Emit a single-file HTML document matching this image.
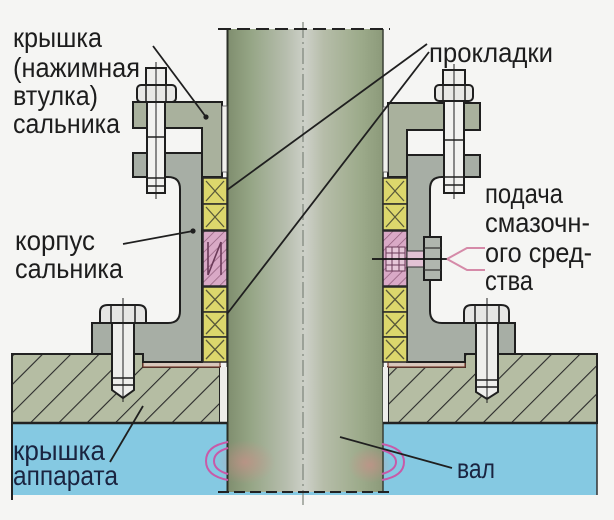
<!DOCTYPE html>
<html><head><meta charset="utf-8"><style>
html,body{margin:0;padding:0;background:#f5f5f3;overflow:hidden}
svg{display:block}
text{font-family:"Liberation Sans","DejaVu Sans",sans-serif;font-size:28px;fill:#1d1d1d}
</style></head><body>
<svg width="614" height="520" viewBox="0 0 614 520" xmlns="http://www.w3.org/2000/svg">
<defs>
 <linearGradient id="sh" x1="0" x2="1" y1="0" y2="0">
  <stop offset="0" stop-color="#7f8d6e"/>
  <stop offset="0.15" stop-color="#95a585"/>
  <stop offset="0.38" stop-color="#b7beae"/>
  <stop offset="0.5" stop-color="#cdd0c8"/>
  <stop offset="0.62" stop-color="#b6bda9"/>
  <stop offset="0.85" stop-color="#9dab8b"/>
  <stop offset="1" stop-color="#8c9a7a"/>
 </linearGradient>
 <radialGradient id="pk" cx="0.5" cy="0.5" r="0.5">
  <stop offset="0" stop-color="#d88a8a" stop-opacity="0.55"/>
  <stop offset="1" stop-color="#d88a8a" stop-opacity="0"/>
 </radialGradient>
 <pattern id="hatch" width="20" height="20" patternUnits="userSpaceOnUse" patternTransform="rotate(45)">
  <rect width="20" height="20" fill="#b5bda3"/>
  <line x1="0" y1="0" x2="0" y2="20" stroke="#2a2a2a" stroke-width="2.2"/>
 </pattern>
 <pattern id="ph" width="7" height="7" patternUnits="userSpaceOnUse" patternTransform="rotate(45)">
  <rect width="7" height="7" fill="#d9a9c6"/>
  <line x1="0" y1="0" x2="0" y2="7" stroke="#8e5a78" stroke-width="1.4"/>
 </pattern>
</defs>

<rect width="614" height="520" fill="#f5f5f3"/>

<!-- blue area -->
<rect x="12" y="423" width="585" height="72" fill="#85c9e2"/>
<line x1="12" y1="423" x2="12" y2="500" stroke="#222" stroke-width="2"/>
<line x1="597" y1="423" x2="597" y2="495" stroke="#333" stroke-width="1.5"/>

<!-- shaft -->
<rect x="227" y="29" width="156" height="463" fill="url(#sh)"/>
<ellipse cx="245" cy="462" rx="30" ry="22" fill="url(#pk)"/>
<ellipse cx="370" cy="465" rx="22" ry="18" fill="url(#pk)"/>
<line x1="227.5" y1="29" x2="227.5" y2="492" stroke="#2a2f26" stroke-width="2"/>
<line x1="383" y1="29" x2="383" y2="492" stroke="#3a4034" stroke-width="1.5"/>
<line x1="303" y1="22" x2="303" y2="505" stroke="#7d847a" stroke-width="1.2" stroke-dasharray="16 4 2 4"/>
<line x1="218" y1="29" x2="390" y2="29" stroke="#222" stroke-width="2" stroke-dasharray="13 6"/>
<line x1="218" y1="492" x2="392" y2="492" stroke="#222" stroke-width="2" stroke-dasharray="11 5"/>

<!-- apparatus covers (hatched) -->
<path d="M12 354 H143 V367 H220 V423 H12 Z" fill="url(#hatch)" stroke="#222" stroke-width="2"/>
<path d="M388 367 H465 V354 H597 V423 H388 Z" fill="url(#hatch)" stroke="#222" stroke-width="2"/>
<rect x="220" y="367" width="7" height="56" fill="#eeeeea"/>
<rect x="383" y="367" width="5" height="56" fill="#eeeeea"/>
<line x1="12" y1="423" x2="227" y2="423" stroke="#222" stroke-width="2.5"/>
<line x1="383" y1="423" x2="597" y2="423" stroke="#222" stroke-width="2.5"/>
<!-- gaskets -->
<rect x="143" y="362" width="77" height="5" fill="#d8c7bb" stroke="#7a3f30" stroke-width="1.2"/>
<rect x="388" y="362" width="77" height="5" fill="#d8c7bb" stroke="#7a3f30" stroke-width="1.2"/>

<!-- stuffing box body -->
<path d="M133 153 H202 V362 H143 V354 H92 V323 H168 Q180 323 180 311 V189 Q180 177 168 177 H133 Z" fill="#a7aea5" stroke="#1f1f1f" stroke-width="2"/>
<path d="M407 155 H480 V177 H442 Q430 177 430 189 V311 Q430 323 442 323 H515 V354 H465 V362 H407 Z" fill="#a7aea5" stroke="#1f1f1f" stroke-width="2"/>

<!-- gland -->
<path d="M133 102 H222 V177 H202 V128 H133 Z" fill="#a9b19d" stroke="#1f1f1f" stroke-width="2"/>
<path d="M388 103 H480 V130 H407 V177 H388 Z" fill="#a9b19d" stroke="#1f1f1f" stroke-width="2"/>
<rect x="222" y="106" width="5" height="66" fill="#f0f0ec" stroke="#555" stroke-width="0.8"/>
<rect x="383" y="107" width="5" height="65" fill="#f0f0ec" stroke="#555" stroke-width="0.8"/>

<!-- packing left -->
<g stroke="#2a2a2a" stroke-width="1.5">
 <rect x="203" y="178" width="24" height="26" fill="#dcd76c"/>
 <rect x="203" y="204" width="24" height="26" fill="#dcd76c"/>
 <rect x="203" y="287" width="24" height="25" fill="#dcd76c"/>
 <rect x="203" y="312" width="24" height="25" fill="#dcd76c"/>
 <rect x="203" y="337" width="24" height="25" fill="#dcd76c"/>
 <rect x="383" y="178" width="24" height="26" fill="#dcd76c"/>
 <rect x="383" y="204" width="24" height="26" fill="#dcd76c"/>
 <rect x="383" y="287" width="24" height="25" fill="#dcd76c"/>
 <rect x="383" y="312" width="24" height="25" fill="#dcd76c"/>
 <rect x="383" y="337" width="24" height="25" fill="#dcd76c"/>
</g>
<g stroke="#5a5a3a" stroke-width="1.3">
 <path d="M206 181 L224 201 M224 181 L206 201 M206 207 L224 227 M224 207 L206 227 M206 290 L224 309 M224 290 L206 309 M206 315 L224 334 M224 315 L206 334 M206 340 L224 359 M224 340 L206 359"/>
 <path d="M386 181 L404 201 M404 181 L386 201 M386 207 L404 227 M404 207 L386 227 M386 290 L404 309 M404 290 L386 309 M386 315 L404 334 M404 315 L386 334 M386 340 L404 359 M404 340 L386 359"/>
</g>
<!-- lantern rings -->
<rect x="203" y="231" width="24" height="55" fill="url(#ph)" stroke="#2a2a2a" stroke-width="1.5"/>
<path d="M208 242 V275 M221 242 V275 M208 275 L221 242" stroke="#6a3a58" stroke-width="1.6" fill="none"/>
<rect x="383" y="231" width="24" height="55" fill="url(#ph)" stroke="#2a2a2a" stroke-width="1.5"/>
<rect x="386" y="247" width="19" height="24" fill="#e6c6d8" stroke="#6a3a58" stroke-width="1"/>
<path d="M386 253 H405 M386 265 H405 M392 247 V271 M399 247 V271" stroke="#6a3a58" stroke-width="1"/>
<rect x="407" y="251" width="20" height="16" fill="#e2c2d4" stroke="#333" stroke-width="1"/>

<!-- lubricator fitting -->
<rect x="424" y="237" width="17" height="43" fill="#b0b6ae" stroke="#1f1f1f" stroke-width="2"/>
<path d="M424 248 H441 M424 270 H441" stroke="#333" stroke-width="1.2"/>
<line x1="372" y1="259" x2="448" y2="259" stroke="#111" stroke-width="1.8"/>
<path d="M447 259 L467 248 H485 M447 259 L467 270 H485" stroke="#d58aa8" stroke-width="2" fill="none"/>

<!-- upper left bolt -->
<g stroke="#1f1f1f" stroke-width="2">
 <rect x="147" y="102" width="18" height="91" fill="#f2f2f0"/>
 <rect x="146" y="68" width="20" height="17" fill="#eeeeec"/>
 <rect x="137" y="85" width="39" height="17" rx="4" fill="#e8e8e6"/>
 <path d="M146 85 V102 M166 85 V102 M147 137 H165 M147 178 H165 M147 186 H165" fill="none" stroke-width="1.5"/>
 <line x1="156" y1="62" x2="156" y2="199" stroke-width="1"/>
</g>
<!-- upper right bolt -->
<g stroke="#1f1f1f" stroke-width="2">
 <rect x="444" y="101" width="20" height="92" fill="#f2f2f0"/>
 <rect x="443" y="70" width="22" height="15" fill="#eeeeec"/>
 <rect x="435" y="85" width="38" height="16" rx="4" fill="#e8e8e6"/>
 <path d="M443 85 V101 M465 85 V101 M444 140 H464 M444 177 H464 M444 185 H464" fill="none" stroke-width="1.5"/>
 <line x1="454" y1="64" x2="454" y2="199" stroke-width="1"/>
</g>
<!-- lower left bolt -->
<g stroke="#1f1f1f" stroke-width="2">
 <path d="M112 323 V390 L123 398 L134 390 V323 Z" fill="#eeeeec"/>
 <path d="M100 323 V312 Q100 305 108 305 H138 Q146 305 146 312 V323 Z" fill="#e6e6e4"/>
 <path d="M111 306 V323 M135 306 V323 M112 378 H134 M112 385 H134" fill="none" stroke-width="1.5"/>
 <line x1="123" y1="298" x2="123" y2="402" stroke-width="1"/>
</g>
<!-- lower right bolt -->
<g stroke="#1f1f1f" stroke-width="2">
 <path d="M476 323 V392 L487 399 L498 392 V323 Z" fill="#eeeeec"/>
 <path d="M464 323 V312 Q464 305 472 305 H501 Q509 305 509 312 V323 Z" fill="#e6e6e4"/>
 <path d="M475 306 V323 M499 306 V323 M476 380 H498 M476 387 H498" fill="none" stroke-width="1.5"/>
 <line x1="487" y1="298" x2="487" y2="403" stroke-width="1"/>
</g>

<!-- rotation marks -->
<g fill="none" stroke="#c85aa8" stroke-width="2">
 <path d="M228 442 Q206 446 206 461 Q206 476 228 480"/>
 <path d="M228 448 Q214 452 214 461 Q214 470 228 474"/>
 <path d="M382 444 Q404 448 404 462 Q404 476 382 480"/>
 <path d="M382 450 Q396 454 396 462 Q396 470 382 474"/>
</g>

<!-- leaders -->
<g stroke="#1f1f1f" stroke-width="1.8" fill="none">
 <line x1="153" y1="46" x2="206" y2="117"/>
 <line x1="427" y1="44" x2="227" y2="190"/>
 <line x1="429" y1="52" x2="227" y2="314"/>
 <line x1="123" y1="244" x2="193" y2="231"/>
 <line x1="110" y1="462" x2="143" y2="406"/>
 <line x1="452" y1="468" x2="340" y2="437"/>
</g>
<g fill="#1f1f1f">
 <circle cx="206" cy="117" r="2.6"/>
 <circle cx="193" cy="231" r="2.6"/>
</g>

<!-- labels -->
<text x="13" y="47" textLength="89" lengthAdjust="spacingAndGlyphs">крышка</text>
<text x="13" y="77" textLength="127" lengthAdjust="spacingAndGlyphs">(нажимная</text>
<text x="13" y="105" textLength="85" lengthAdjust="spacingAndGlyphs">втулка)</text>
<text x="13" y="133" textLength="107" lengthAdjust="spacingAndGlyphs">сальника</text>
<text x="15" y="250" textLength="80" lengthAdjust="spacingAndGlyphs">корпус</text>
<text x="15" y="278" textLength="108" lengthAdjust="spacingAndGlyphs">сальника</text>
<text x="13" y="460" textLength="92" lengthAdjust="spacingAndGlyphs" style="fill:#1a2440">крышка</text>
<text x="13" y="485" textLength="105" lengthAdjust="spacingAndGlyphs" style="fill:#1a2440">аппарата</text>
<text x="429" y="62" textLength="124" lengthAdjust="spacingAndGlyphs">прокладки</text>
<text x="485" y="203" textLength="78" lengthAdjust="spacingAndGlyphs">подача</text>
<text x="485" y="232" textLength="105" lengthAdjust="spacingAndGlyphs">смазочн-</text>
<text x="485" y="262" textLength="107" lengthAdjust="spacingAndGlyphs">ого сред-</text>
<text x="485" y="290" textLength="48" lengthAdjust="spacingAndGlyphs">ства</text>
<text x="457" y="478" textLength="38" lengthAdjust="spacingAndGlyphs" style="fill:#1a2440">вал</text>
</svg>
</body></html>
